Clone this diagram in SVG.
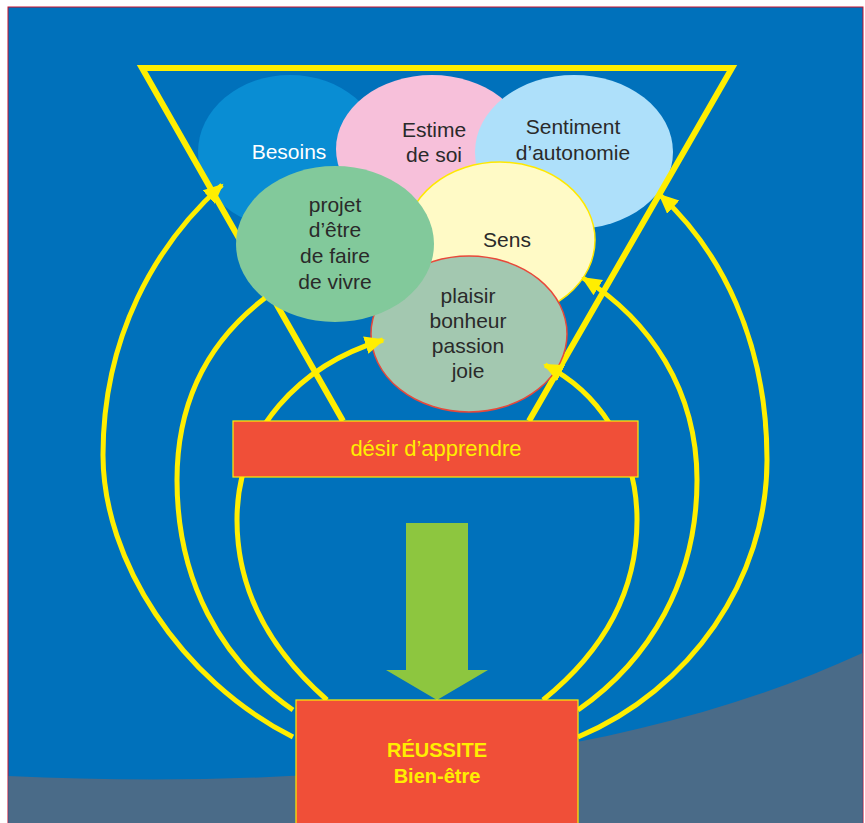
<svg xmlns="http://www.w3.org/2000/svg" width="865" height="823" viewBox="0 0 865 823">
<defs>
<style>
.t{font-family:"Liberation Sans",Arial,sans-serif;font-size:21px;fill:#2a2a2a;text-anchor:middle}
.arc{fill:none;stroke:#ffee00;stroke-width:5}
.tri{fill:none;stroke:#ffee00;stroke-width:6;stroke-linejoin:miter}
.box{fill:#f04f38;stroke:#ffee00;stroke-width:1.2}
.y{font-family:"Liberation Sans",Arial,sans-serif;fill:#ffee00;text-anchor:middle}
</style>
<marker id="ah" markerUnits="userSpaceOnUse" markerWidth="24" markerHeight="24" refX="18" refY="9" orient="auto">
<path d="M0,0 L20,9 L0,18 Z" fill="#ffee00"/>
</marker>
</defs>
<rect x="0" y="0" width="865" height="823" fill="#ffffff"/>
<rect x="8" y="7" width="855" height="820" fill="#0071bb" stroke="#c8102e" stroke-width="1"/>
<path d="M8.5,776 C300,790 620,765 862.5,653 L862.5,823 L8.5,823 Z" fill="#4a6b88"/>

<g id="besoins">
<ellipse cx="290" cy="152" rx="92" ry="77" fill="#098dd3"/>
<text class="t" x="289" y="159" style="fill:#ffffff">Besoins</text>
</g>
<g id="estime">
<ellipse cx="432" cy="149" rx="96" ry="74" fill="#f7c0da"/>
<text class="t" x="434" y="137">Estime</text>
<text class="t" x="434" y="162">de soi</text>
</g>
<g id="sentiment">
<ellipse cx="574" cy="152" rx="99" ry="77" fill="#aee0fa"/>
<text class="t" x="573" y="134">Sentiment</text>
<text class="t" x="573" y="160">d’autonomie</text>
</g>

<g id="triangle">
<path class="tri" d="M343,421 L142,68 L732,68 L529,421"/>
</g>

<g id="sens">
<ellipse cx="500" cy="240" rx="95" ry="78" fill="#fffac6" stroke="#ffe800" stroke-width="1.5"/>
<text class="t" x="507" y="247">Sens</text>
</g>
<g id="plaisir">
<ellipse cx="469" cy="334" rx="98" ry="78" fill="#a3c8b0" stroke="#e8483a" stroke-width="1.5"/>
<text class="t" x="468" y="303">plaisir</text>
<text class="t" x="468" y="328">bonheur</text>
<text class="t" x="468" y="353">passion</text>
<text class="t" x="468" y="378">joie</text>
</g>
<g id="projet">
<ellipse cx="335" cy="244" rx="99" ry="78" fill="#82c99b"/>
<text class="t" x="335" y="212">projet</text>
<text class="t" x="335" y="237">d’être</text>
<text class="t" x="335" y="263">de faire</text>
<text class="t" x="335" y="289">de vivre</text>
</g>

<g id="connectors">
<path class="arc" d="M293,737 C180,680 103,560 103,455 C103,337 155,245 222,185" marker-end="url(#ah)"/>
<path class="arc" d="M293,710 C220,660 177,580 177,480 C177,400 210,340 265,298"/>
<path class="arc" d="M327,700 C270,650 237,590 237,520 C237,430 300,365 383,340" marker-end="url(#ah)"/>
<path class="arc" d="M578,737 C690,690 767,580 767,460 C767,340 720,250 660,195" marker-end="url(#ah)"/>
<path class="arc" d="M578,710 C650,660 697,580 697,480 C697,390 650,320 583,278" marker-end="url(#ah)"/>
<path class="arc" d="M543,700 C605,650 637,590 637,520 C637,445 595,390 545,365" marker-end="url(#ah)"/>
</g>

<g id="desir">
<rect class="box" x="233" y="421" width="405" height="56"/>
<text class="y" x="436" y="456" font-size="22">désir d’apprendre</text>
</g>

<g id="fleche">
<path d="M406,523 L468,523 L468,670 L488,670 L437,700 L386,670 L406,670 Z" fill="#8dc63f"/>
</g>

<g id="reussite">
<rect class="box" x="296" y="700" width="282" height="130"/>
<text class="y" x="437" y="757" font-size="20" font-weight="bold">RÉUSSITE</text>
<text class="y" x="437" y="783" font-size="20" font-weight="bold">Bien-être</text>
</g>
</svg>
